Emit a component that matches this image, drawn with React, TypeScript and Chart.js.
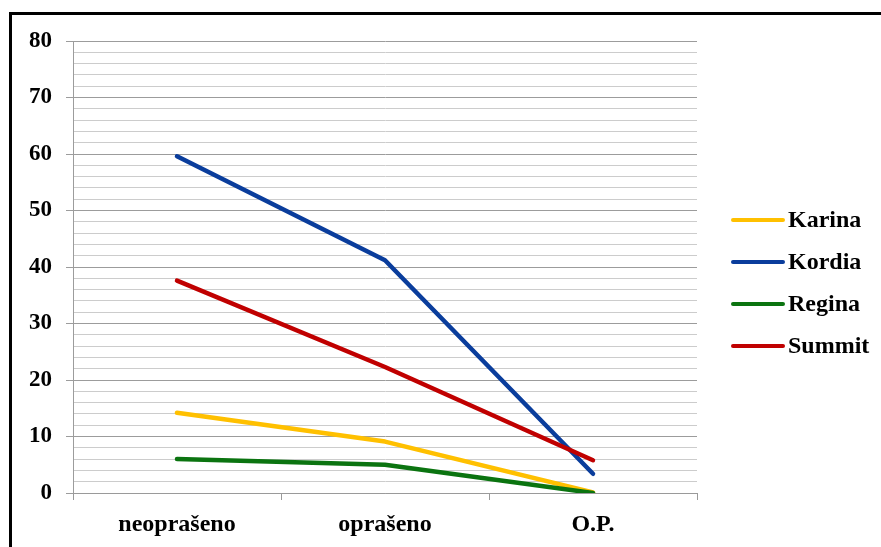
import React, { useEffect, useRef } from "react";
import { Chart, registerables } from "chart.js";

Chart.register(...registerables);

const categories = ["neoprašeno", "oprašeno", "O.P."];
const seriesNames = ["Karina", "Kordia", "Regina", "Summit"];
const karina = [14.2, 9.1, 0.1];
const kordia = [59.6, 41.2, 3.4];
const regina = [6.0, 5.0, 0.0];
const summit = [37.6, 22.3, 5.8];
const seriesColors = ["#FFC000", "#0A3D9C", "#0B7410", "#C00000"];

const FONT = '"Liberation Serif", "Times New Roman", serif';

const legendPlugin = {
  id: "customLegend",
  afterDraw(chart: any) {
    const ctx = chart.ctx;
    const x0 = 733;
    const x1 = 783;
    const top = 220;
    const gap = 42;
    ctx.save();
    chart.data.datasets.forEach((ds: any, i: number) => {
      const y = top + i * gap;
      ctx.beginPath();
      ctx.strokeStyle = ds.borderColor;
      ctx.lineWidth = 4;
      ctx.lineCap = "round";
      ctx.moveTo(x0, y);
      ctx.lineTo(x1, y);
      ctx.stroke();
      ctx.fillStyle = "#000";
      ctx.font = "bold 24px " + FONT;
      ctx.textBaseline = "middle";
      ctx.textAlign = "left";
      ctx.fillText(ds.label, x1 + 5, y + 1);
    });
    ctx.restore();
  },
};

export default function App() {
  const ref = useRef<HTMLCanvasElement>(null);

  useEffect(() => {
    if (!ref.current) return;
    const seriesData = [karina, kordia, regina, summit];
    const chart = new Chart(ref.current, {
      type: "line",
      data: {
        labels: categories,
        datasets: seriesNames.map((name, i) => ({
          label: name,
          data: seriesData[i],
          borderColor: seriesColors[i],
          backgroundColor: seriesColors[i],
          borderWidth: 4.5,
          pointRadius: 0,
          tension: 0,
          fill: false,
          borderCapStyle: "round" as const,
          borderJoinStyle: "round" as const,
          order: 4 - i,
        })),
      },
      options: {
        animation: false,
        responsive: false,
        maintainAspectRatio: false,
        layout: { padding: { top: 41, right: 184, left: 0, bottom: 0 } },
        plugins: {
          legend: { display: false },
          tooltip: { enabled: false },
        },
        scales: {
          x: {
            type: "category",
            offset: true,
            afterFit: (s: any) => {
              s.height = 54;
            },
            grid: {
              offset: true,
              drawOnChartArea: false,
              drawTicks: true,
              tickLength: 7,
              color: "#9a9a9a",
            },
            border: { display: true, color: "#9a9a9a", width: 1 },
            ticks: {
              color: "#000",
              font: { family: FONT, size: 24, weight: "bold" },
              padding: 10,
              maxRotation: 0,
            },
          },
          y: {
            min: 0,
            max: 80,
            afterFit: (s: any) => {
              s.width = 73;
            },
            grid: {
              drawTicks: true,
              tickLength: 7,
              color: (c: any) =>
                c.tick && c.tick.value % 10 === 0 ? "#9c9c9c" : "#cccccc",
              tickColor: (c: any) =>
                c.tick && c.tick.value % 10 === 0 ? "#9c9c9c" : "rgba(0,0,0,0)",
            },
            border: { display: true, color: "#9c9c9c", width: 1 },
            ticks: {
              stepSize: 2,
              autoSkip: false,
              color: "#000",
              padding: 14,
              font: { family: FONT, size: 23, weight: "bold" },
              callback: (v: any) => (Number(v) % 10 === 0 ? String(v) : ""),
            },
          },
        },
      },
      plugins: [legendPlugin],
    });
    return () => chart.destroy();
  }, []);

  return (
    <div
      style={{
        position: "fixed",
        left: 0,
        top: 0,
        width: 881,
        height: 547,
        overflow: "hidden",
        background: "#fff",
      }}
    >
      <div
        style={{
          position: "absolute",
          left: 9,
          top: 12,
          width: 900,
          height: 600,
          borderTop: "3px solid #000",
          borderLeft: "3px solid #000",
        }}
      />
      <canvas
        ref={ref}
        width={881}
        height={547}
        style={{ position: "absolute", left: 0, top: 0, width: 881, height: 547 }}
      />
    </div>
  );
}
